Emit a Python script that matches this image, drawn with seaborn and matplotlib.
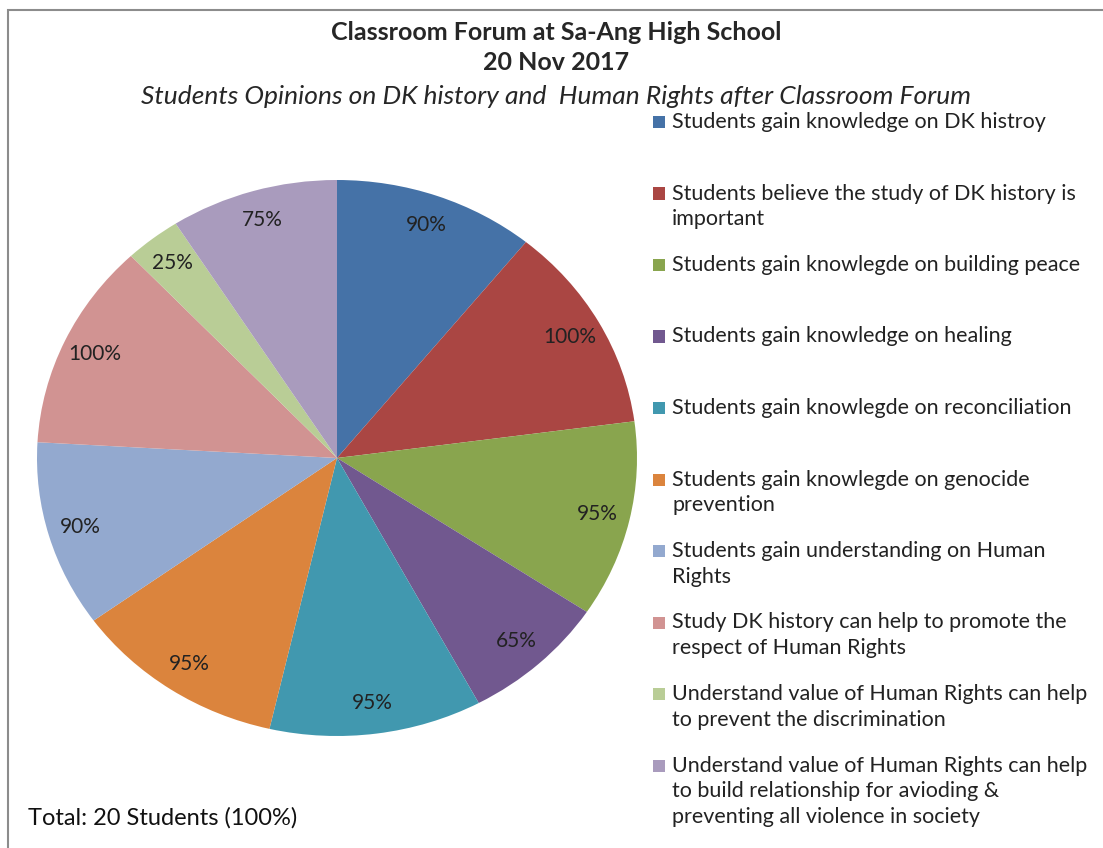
import seaborn as sns
import matplotlib.pyplot as plt
from matplotlib.patches import Rectangle
import numpy as np

# Dados do gráfico
categorias = [
    "Students gain knowledge on DK histroy",
    "Students believe the study of DK history is\nimportant",
    "Students gain knowlegde on building peace",
    "Students gain knowledge on healing",
    "Students gain knowlegde on reconciliation",
    "Students gain knowlegde on genocide\nprevention",
    "Students gain understanding on Human\nRights",
    "Study DK history can help to promote the\nrespect of Human Rights",
    "Understand value of Human Rights can help\nto prevent the discrimination",
    "Understand value of Human Rights can help\nto build relationship for avioding &\npreventing all violence in society",
]
valores = [90, 100, 95, 65, 95, 95, 90, 100, 25, 75]
cores = ["#4572A7", "#AA4643", "#89A54E", "#71588F", "#4198AF",
         "#DB843D", "#93A9CF", "#D19392", "#B9CD96", "#A99BBD"]

sns.set_style("white")
plt.rcParams['font.family'] = ['Lato', 'DejaVu Sans']
paleta = sns.color_palette(cores)

fig = plt.figure(figsize=(11.03, 8.48), dpi=100)
W, H = 1103, 848

# Eixo do pizza (levemente elíptico como no Excel)
ax = fig.add_axes([37 / W, (H - 736) / H, 600 / W, 556 / H])
wedges, _ = ax.pie(valores, colors=paleta, startangle=90, counterclock=False,
                   wedgeprops=dict(linewidth=0))
ax.set_aspect('auto')
ax.set_xlim(-1, 1)
ax.set_ylim(-1, 1)
ax.axis('off')

# Rótulos de porcentagem dentro das fatias
for w, v in zip(wedges, valores):
    ang = np.deg2rad((w.theta1 + w.theta2) / 2)
    ax.text(0.89 * np.cos(ang), 0.89 * np.sin(ang), f"{v}%",
            ha='center', va='center', fontsize=15, color='#222222')

# Títulos
fig.text(556 / W, 1 - 33 / H, "Classroom Forum at Sa-Ang High School",
         ha='center', va='center', fontsize=18, fontweight='bold')
fig.text(556 / W, 1 - 63 / H, "20 Nov 2017",
         ha='center', va='center', fontsize=18, fontweight='bold')
fig.text(556 / W, 1 - 96 / H,
         "Students Opinions on DK history and  Human Rights after Classroom Forum",
         ha='center', va='center', fontsize=19, style='italic')

# Legenda manual com espaçamento fixo
for i, (lab, c) in enumerate(zip(categorias, paleta)):
    y = 122 + i * 71.5
    fig.add_artist(Rectangle((653 / W, 1 - (y + 6) / H), 12 / W, 12 / H,
                             transform=fig.transFigure, color=c, lw=0))
    fig.text(672 / W, 1 - (y - 10) / H, lab, ha='left', va='top',
             fontsize=15.5, color='#222222', linespacing=1.35)

fig.text(28 / W, 1 - 818 / H, "Total: 20 Students (100%)",
         ha='left', va='center', fontsize=17, color='#111111')

# Borda cinza do gráfico
fig.add_artist(Rectangle((8 / W, -0.05), 1.1, (H - 10) / H + 0.05,
                         transform=fig.transFigure, fill=False,
                         edgecolor='#8c8c8c', lw=1.5))

fig.savefig("out.png", dpi=100)
